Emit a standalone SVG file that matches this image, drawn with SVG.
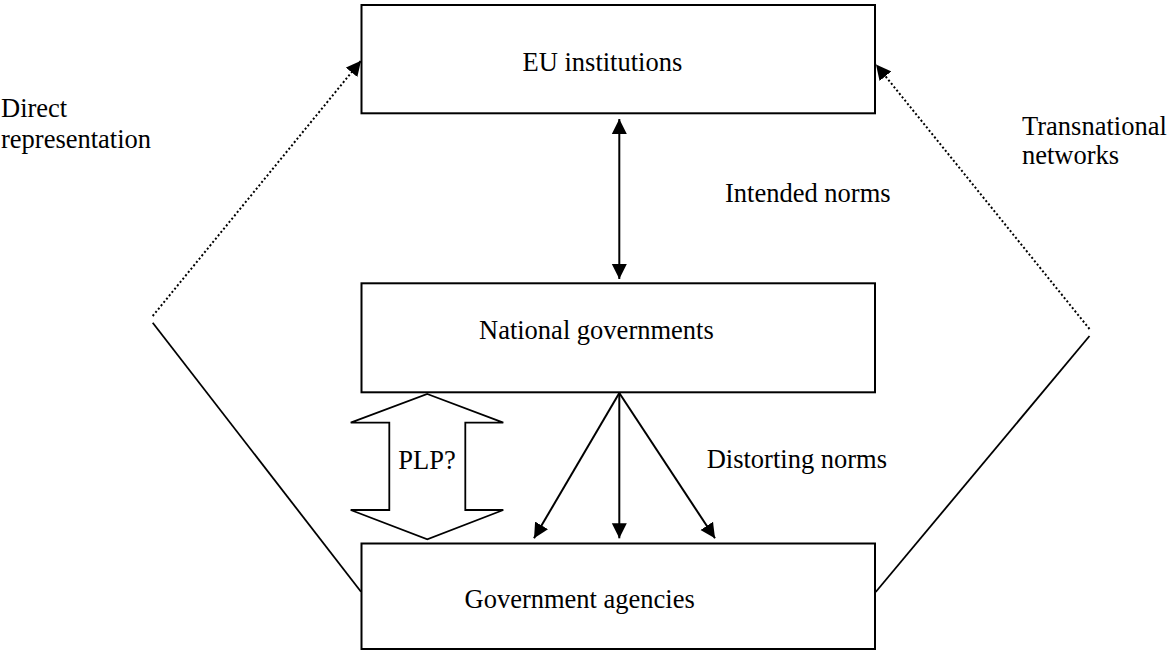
<svg xmlns="http://www.w3.org/2000/svg" width="1168" height="651" viewBox="0 0 1168 651">
<style>
.box{fill:#fff;stroke:#000;stroke-width:2}
.t{font-family:"Liberation Serif","Times New Roman",serif;font-size:26.5px;fill:#000}
.ln{stroke:#000;stroke-width:2;fill:none}
.dot{stroke:#000;stroke-width:2;fill:none;stroke-dasharray:2 2.3}
.thin{stroke:#000;stroke-width:1.8;fill:none}
</style>
<defs>
<marker id="ah" markerUnits="userSpaceOnUse" markerWidth="16" markerHeight="16" viewBox="0 0 16 15" refX="15" refY="7.5" orient="auto-start-reverse">
<path d="M0,0 L15,7.5 L0,15 z" fill="#000"/>
</marker>
</defs>
<rect width="1168" height="651" fill="#fff"/>
<g id="connectors">
<line class="ln" x1="619.3" y1="119" x2="619.3" y2="279" marker-start="url(#ah)" marker-end="url(#ah)"/>
<line class="ln" x1="619.3" y1="393" x2="534" y2="538.3" marker-end="url(#ah)"/>
<line class="ln" x1="619.3" y1="393" x2="619.3" y2="538.3" marker-end="url(#ah)"/>
<line class="ln" x1="619.3" y1="393" x2="715" y2="538.3" marker-end="url(#ah)"/>
<line class="dot" x1="152.7" y1="316" x2="361" y2="60.7" marker-end="url(#ah)"/>
<line class="thin" x1="152.7" y1="322.7" x2="361" y2="591.7"/>
<line class="dot" x1="1089.5" y1="329" x2="876" y2="64.5" marker-end="url(#ah)"/>
<line class="thin" x1="1089.5" y1="336" x2="875.7" y2="592"/>
<polygon class="thin" points="427.3,394 503.3,422.7 465.3,422.7 465.3,510 503.3,510 427.3,539.3 350.7,510 389.3,510 389.3,422.7 350.7,422.7"/>
</g>
<g id="node-eu">
<rect class="box" x="361.5" y="5" width="513.5" height="108.3"/>
<text class="t" x="522.5" y="71">EU institutions</text>
</g>
<g id="node-national">
<rect class="box" x="361.5" y="283.3" width="513.5" height="109"/>
<text class="t" x="479" y="339.3">National governments</text>
</g>
<g id="node-agencies">
<rect class="box" x="361.5" y="543.5" width="513.5" height="105.5"/>
<text class="t" x="464.5" y="608.3">Government agencies</text>
</g>
<g id="labels">
<text class="t" x="1" y="116.7">Direct</text>
<text class="t" x="1" y="148">representation</text>
<text class="t" x="1022" y="134.5">Transnational</text>
<text class="t" x="1022" y="164">networks</text>
<text class="t" x="725" y="202.3">Intended norms</text>
<text class="t" x="706.7" y="468.3">Distorting norms</text>
<text class="t" x="398.3" y="469">PLP?</text>
</g>
</svg>
